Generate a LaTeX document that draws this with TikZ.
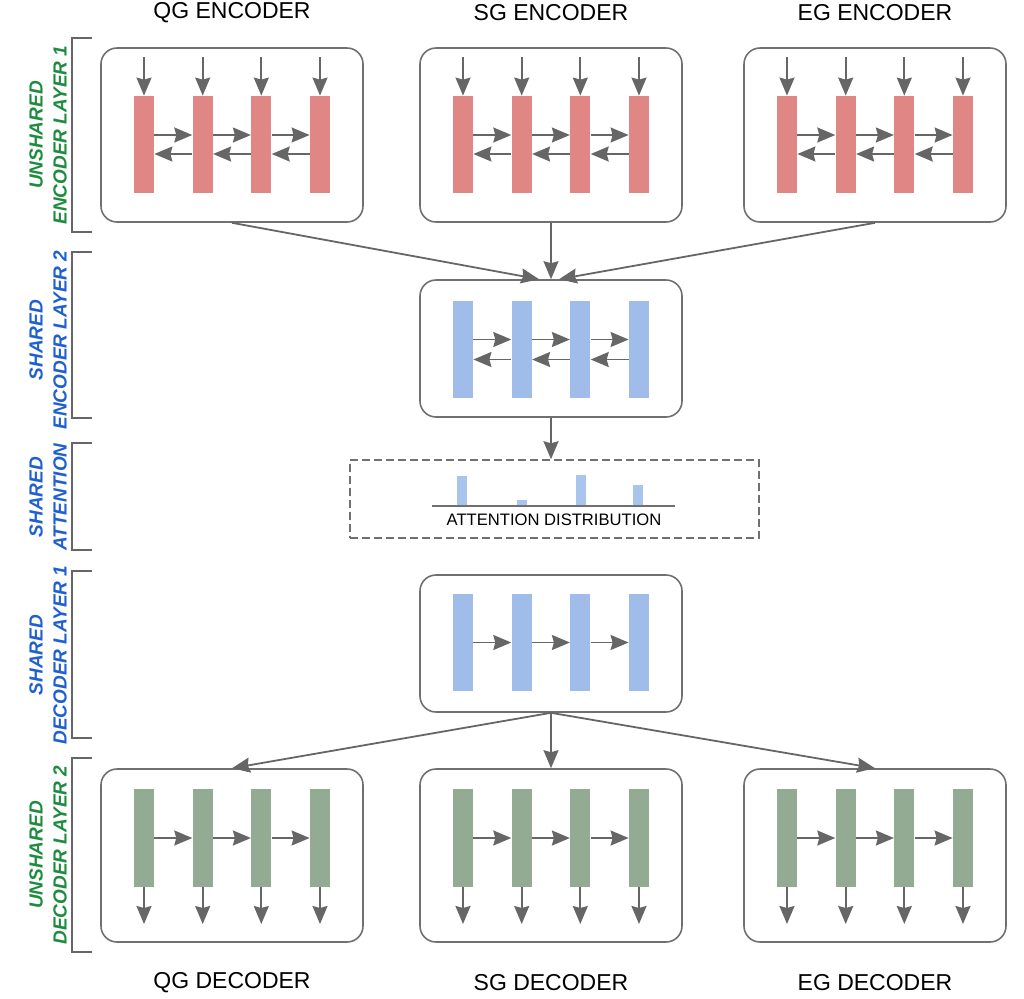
\documentclass[tikz,border=0pt]{standalone}
\usepackage{fontspec}
\setmainfont{Liberation Sans}
\usetikzlibrary{arrows.meta,calc}
\definecolor{encred}{HTML}{E08684}
\definecolor{sharedblue}{HTML}{9FBDE8}
\definecolor{attblue}{HTML}{A9C5EE}
\definecolor{decgreen}{HTML}{93AB93}
\definecolor{linegray}{HTML}{666666}
\definecolor{boxgray}{HTML}{707070}
\definecolor{labgreen}{HTML}{1E8C3E}
\definecolor{labblue}{HTML}{1F5FD0}
\tikzset{
  layerbox/.style={draw=boxgray, line width=0.8pt, rounded corners=8pt, minimum width=131pt, inner sep=0pt},
  cell/.style={minimum width=10pt, minimum height=48.5pt, inner sep=0pt},
  flow/.style={draw=linegray, line width=0.9pt, -{Stealth[length=9pt,width=7.5pt,inset=1pt]}},
  sidelabel/.style={rotate=90, align=center, font=\bfseries\itshape\fontsize{9.5}{12}\selectfont},
  bracket/.style={draw=linegray, line width=0.8pt},
  title/.style={font=\fontsize{11.5}{13}\selectfont}
}
\begin{document}
\begin{tikzpicture}[x=0.5pt,y=-0.5pt]
\useasboundingbox (0,0) rectangle (1024,998);

% Titles on top and below
\node[title] (qgtop) at (232,13) {QG ENCODER};
\node[title] (sgtop) at (551,13) {SG ENCODER};
\node[title] (egtop) at (875,13) {EG ENCODER};
\node[title] (qgbot) at (232,983) {QG DECODER};
\node[title] (sgbot) at (551,983) {SG DECODER};
\node[title] (egbot) at (875,983) {EG DECODER};

% Brackets and layer labels on the left
\draw[bracket] (92,38) -- (72,38) -- (72,232) -- (92,232);
\node[sidelabel, text=labgreen] (lab1) at (48,135) {UNSHARED\\ENCODER LAYER 1};
\draw[bracket] (92,252) -- (72,252) -- (72,418) -- (92,418);
\node[sidelabel, text=labblue] (lab2) at (48,340) {SHARED\\ENCODER LAYER 2};
\draw[bracket] (92,443) -- (72,443) -- (72,550) -- (92,550);
\node[sidelabel, text=labblue] (lab3) at (48,497) {SHARED\\ATTENTION};
\draw[bracket] (92,571) -- (72,571) -- (72,738) -- (92,738);
\node[sidelabel, text=labblue] (lab4) at (48,655) {SHARED\\DECODER LAYER 1};
\draw[bracket] (92,758) -- (72,758) -- (72,952) -- (92,952);
\node[sidelabel, text=labgreen] (lab5) at (48,855) {UNSHARED\\DECODER LAYER 2};

% Unshared encoders
\foreach \n/\cx in {qg/232, sg/551, eg/875} {
  \node[layerbox, minimum height=87pt] (\n-enc) at (\cx,135) {};
  \foreach \i/\dx in {1/-88, 2/-29.3, 3/29.3, 4/88} {
    \node[cell, fill=encred] (\n-e\i) at ({\cx+\dx},144.5) {};
    \coordinate (\n-in\i) at ({\cx+\dx},57);
    \draw[flow] (\n-in\i) -- (\n-e\i.north);
  }
  \foreach \i/\j in {1/2, 2/3, 3/4} {
    \draw[flow] ([yshift=4.75pt]\n-e\i.east) -- ([yshift=4.75pt]\n-e\j.west);
    \draw[flow] ([yshift=-4.75pt]\n-e\j.west) -- ([yshift=-4.75pt]\n-e\i.east);
  }
}

% Shared encoder
\node[layerbox, minimum height=68.5pt] (shenc) at (551,348.5) {};
\foreach \i/\dx in {1/-88, 2/-29.3, 3/29.3, 4/88}
  \node[cell, fill=sharedblue] (se\i) at ({551+\dx},349.5) {};
\foreach \i/\j in {1/2, 2/3, 3/4} {
  \draw[flow] ([yshift=5pt]se\i.east) -- ([yshift=5pt]se\j.west);
  \draw[flow] ([yshift=-5pt]se\j.west) -- ([yshift=-5pt]se\i.east);
}
\draw[flow] (qg-enc.south) -- ([xshift=-6pt]shenc.north);
\draw[flow] (sg-enc.south) -- (shenc.north);
\draw[flow] (eg-enc.south) -- ([xshift=4pt]shenc.north);

% Shared attention
\node[draw=boxgray, line width=0.75pt, dash pattern=on 4pt off 2pt, minimum width=204.5pt, minimum height=39pt, inner sep=0pt] (attbox) at (554.5,499) {};
\draw[flow] (shenc.south) -- (shenc.south |- attbox.north);
\fill[attblue] (457,506) rectangle (467,476);
\fill[attblue] (517,506) rectangle (527,500);
\fill[attblue] (576,506) rectangle (586,475);
\fill[attblue] (633,506) rectangle (643,485);
\draw[boxgray, line width=0.6pt] (432,506) -- (675,506);
\node[font=\fontsize{8.3}{10}\selectfont] (attlab) at (554,520) {ATTENTION DISTRIBUTION};

% Shared decoder
\node[layerbox, minimum height=68.5pt] (shdec) at (551,643.5) {};
\foreach \i/\dx in {1/-88, 2/-29.3, 3/29.3, 4/88}
  \node[cell, fill=sharedblue] (sd\i) at ({551+\dx},642.5) {};
\foreach \i/\j in {1/2, 2/3, 3/4}
  \draw[flow] (sd\i.east) -- (sd\j.west);

% Unshared decoders
\foreach \n/\cx in {qg/232, sg/551, eg/875} {
  \node[layerbox, minimum height=86.5pt] (\n-dec) at (\cx,855.5) {};
  \foreach \i/\dx in {1/-88, 2/-29.3, 3/29.3, 4/88} {
    \node[cell, minimum height=49pt, fill=decgreen] (\n-d\i) at ({\cx+\dx},838) {};
    \coordinate (\n-out\i) at ({\cx+\dx},924);
    \draw[flow] (\n-d\i.south) -- (\n-out\i);
  }
  \foreach \i/\j in {1/2, 2/3, 3/4}
    \draw[flow] (\n-d\i.east) -- (\n-d\j.west);
  \draw[flow] (shdec.south) -- (\n-dec.north);
}
\end{tikzpicture}
\end{document}
